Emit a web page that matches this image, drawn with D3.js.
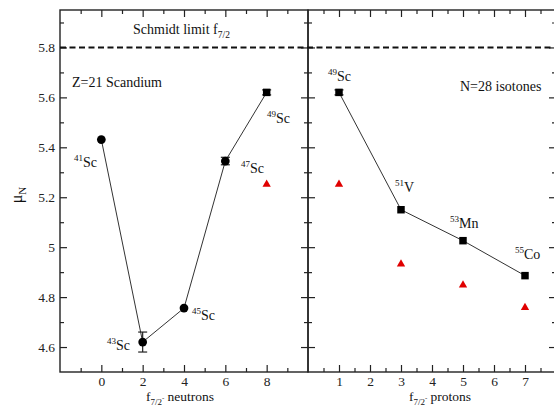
<!DOCTYPE html>
<html><head><meta charset="utf-8">
<script src="https://cdn.jsdelivr.net/npm/d3@7"></script>
<style>
body{margin:0;background:#fff;}
svg{display:block;font-family:"Liberation Serif","Times New Roman",serif;}
</style></head>
<body><svg id="c" width="554" height="412"></svg>
<script>
// ---- data ----
const neutrons = [0, 2, 4, 6, 8];
const scMu = [5.431, 4.62, 4.756, 5.345, 5.62];
const scErr = [0, 0.04, 0, 0.015, 0.01];
const scMass = ["41", "43", "45", "47", "49"];
const scShape = ["circle", "circle", "circle", "circle", "square"];
const scTheoryX = [8];
const scTheory = [5.252];

const protons = [1, 3, 5, 7];
const isoMu = [5.62, 5.15, 5.026, 4.886];
const isoErr = [0.01, 0, 0, 0];
const isoMass = ["49", "51", "53", "55"];
const isoSym = ["Sc", "V", "Mn", "Co"];
const isoTheory = [5.252, 4.932, 4.848, 4.758];

const schmidt = 5.8;
const yTicks = [4.6, 4.8, 5, 5.2, 5.4, 5.6, 5.8];
const yTickLabels = ["4.6", "4.8", "5", "5.2", "5.4", "5.6", "5.8"];
const yMinor = [4.7, 4.9, 5.1, 5.3, 5.5, 5.7, 5.9];
const xLeftTicks = [0, 2, 4, 6, 8];
const xLeftMinor = [-1, 1, 3, 5, 7, 9];
const xRightTicks = [1, 2, 3, 4, 5, 6, 7];
const xRightMinor = [0.5, 1.5, 2.5, 3.5, 4.5, 5.5, 6.5, 7.5];

// ---- layout ----
const svg = d3.select("#c");
const yTop = 10, yBottom = 372;
const y = d3.scaleLinear().domain([4.5, 5.95]).range([yBottom, yTop]);
const xL = d3.scaleLinear().domain([-2, 10]).range([60, 308]);
const xR = d3.scaleLinear().domain([0, 8]).range([308, 556]);
const ink = "#222";
const fs = 13.5;

function axes(g, x, majors, minors, leftLabels) {
  const [x0, x1] = x.range();
  const ab = g.append("g").attr("transform", `translate(0,${yBottom})`)
    .call(d3.axisBottom(x).tickValues(majors).tickSizeInner(-7).tickSizeOuter(0).tickPadding(4));
  const abm = g.append("g").attr("transform", `translate(0,${yBottom})`)
    .call(d3.axisBottom(x).tickValues(minors).tickSizeInner(-4).tickSizeOuter(0).tickFormat(""));
  const at = g.append("g").attr("transform", `translate(0,${yTop})`)
    .call(d3.axisTop(x).tickValues(majors).tickSizeInner(-7).tickSizeOuter(0).tickFormat(""));
  const atm = g.append("g").attr("transform", `translate(0,${yTop})`)
    .call(d3.axisTop(x).tickValues(minors).tickSizeInner(-4).tickSizeOuter(0).tickFormat(""));
  const al = g.append("g").attr("transform", `translate(${x0},0)`)
    .call(d3.axisLeft(y).tickValues(yTicks).tickSizeInner(-7).tickSizeOuter(0).tickPadding(5)
      .tickFormat((d, i) => leftLabels ? yTickLabels[i] : ""));
  const alm = g.append("g").attr("transform", `translate(${x0},0)`)
    .call(d3.axisLeft(y).tickValues(yMinor).tickSizeInner(-4).tickSizeOuter(0).tickFormat(""));
  const ar = g.append("g").attr("transform", `translate(${x1},0)`)
    .call(d3.axisRight(y).tickValues(yTicks).tickSizeInner(-7).tickSizeOuter(0).tickFormat(""));
  const arm = g.append("g").attr("transform", `translate(${x1},0)`)
    .call(d3.axisRight(y).tickValues(yMinor).tickSizeInner(-4).tickSizeOuter(0).tickFormat(""));
  [ab, abm, at, atm, al, alm, ar, arm].forEach(a => {
    a.select(".domain").remove();
    a.selectAll("line").attr("stroke", ink).attr("stroke-width", 1.2);
    a.selectAll("text").attr("font-size", fs).attr("fill", ink)
      .attr("font-family", "Liberation Serif, serif");
  });
  g.append("rect").attr("x", x0).attr("y", yTop).attr("width", x1 - x0).attr("height", yBottom - yTop)
    .attr("fill", "none").attr("stroke", ink).attr("stroke-width", 1.4);
}

const gL = svg.append("g");
const gR = svg.append("g");
axes(gL, xL, xLeftTicks, xLeftMinor, true);
axes(gR, xR, xRightTicks, xRightMinor, false);

// Schmidt line
svg.append("line").attr("x1", xL(-2)).attr("x2", xR(8)).attr("y1", y(schmidt)).attr("y2", y(schmidt))
  .attr("stroke", "#111").attr("stroke-width", 2).attr("stroke-dasharray", "6,3.5");

// ---- marks ----
function drawSeries(g, x, xs, ys, errs, shapes) {
  const line = d3.line().x((d, i) => x(xs[i])).y(d => y(d));
  g.append("path").datum(ys).attr("d", line).attr("fill", "none").attr("stroke", "#333").attr("stroke-width", 1);
  xs.forEach((xv, i) => {
    if (errs[i] > 0) {
      const cx = x(xv), y1 = y(ys[i] + errs[i]), y2 = y(ys[i] - errs[i]);
      g.append("line").attr("x1", cx).attr("x2", cx).attr("y1", y1).attr("y2", y2).attr("stroke", "#222").attr("stroke-width", 1.2);
      [y1, y2].forEach(yy => g.append("line").attr("x1", cx - 4.5).attr("x2", cx + 4.5).attr("y1", yy).attr("y2", yy)
        .attr("stroke", "#222").attr("stroke-width", 1.2));
    }
    const sym = shapes[i] === "square" ? d3.symbolSquare : d3.symbolCircle;
    const size = shapes[i] === "square" ? 56 : 60;
    g.append("path").attr("d", d3.symbol().type(sym).size(size)())
      .attr("transform", `translate(${x(xv)},${y(ys[i])})`).attr("fill", "#000");
  });
}
drawSeries(gL, xL, neutrons, scMu, scErr, scShape);
drawSeries(gR, xR, protons, isoMu, isoErr, protons.map(() => "square"));

function drawTheory(g, x, xs, ys) {
  g.selectAll(null).data(ys).join("path")
    .attr("d", d3.symbol().type(d3.symbolTriangle).size(30)())
    .attr("transform", (d, i) => `translate(${x(xs[i])},${y(d)})`)
    .attr("fill", "#e00000");
}
drawTheory(gL, xL, scTheoryX, scTheory);
drawTheory(gR, xR, protons, isoTheory);

// ---- labels ----
function iso(g, px, py, mass, sym) {
  const t = g.append("text").attr("x", px).attr("y", py).attr("font-size", 14).attr("fill", "#111");
  t.append("tspan").text(mass).attr("font-size", 9).attr("dy", -6);
  t.append("tspan").text(sym).attr("dy", 6);
}
const scLabelPos = [[74, 167], [107, 350], [192, 320], [241, 173], [267, 123]];
scLabelPos.forEach((p, i) => iso(svg, p[0], p[1], scMass[i], "Sc"));
const isoLabelPos = [[328, 81], [395, 192], [450, 228], [515, 259]];
isoLabelPos.forEach((p, i) => iso(svg, p[0], p[1], isoMass[i], isoSym[i]));

const sl = svg.append("text").attr("x", 133).attr("y", 34).attr("font-size", 14).attr("fill", "#111");
sl.append("tspan").text("Schmidt limit f");
sl.append("tspan").text("7/2").attr("font-size", 9.5).attr("dy", 4);

svg.append("text").attr("x", 72).attr("y", 87).attr("font-size", 14).attr("fill", "#111").text("Z=21 Scandium");
svg.append("text").attr("x", 460).attr("y", 91).attr("font-size", 14).attr("fill", "#111").text("N=28 isotones");

function xlabel(cx, word) {
  const t = svg.append("text").attr("x", cx).attr("y", 401).attr("font-size", 13.5).attr("fill", "#111").attr("text-anchor", "middle");
  t.append("tspan").text("f");
  t.append("tspan").text("7/2").attr("font-size", 9).attr("dy", 4);
  t.append("tspan").text("-").attr("font-size", 7).attr("dy", -5);
  t.append("tspan").text(" " + word).attr("dy", 1);
}
xlabel(180, "neutrons");
xlabel(440, "protons");

const yl = svg.append("text").attr("transform", "translate(22,195) rotate(-90)").attr("text-anchor", "middle")
  .attr("font-size", 16).attr("fill", "#111");
yl.append("tspan").text("μ");
yl.append("tspan").text("N").attr("font-size", 11).attr("dy", 4);
</script></body></html>
